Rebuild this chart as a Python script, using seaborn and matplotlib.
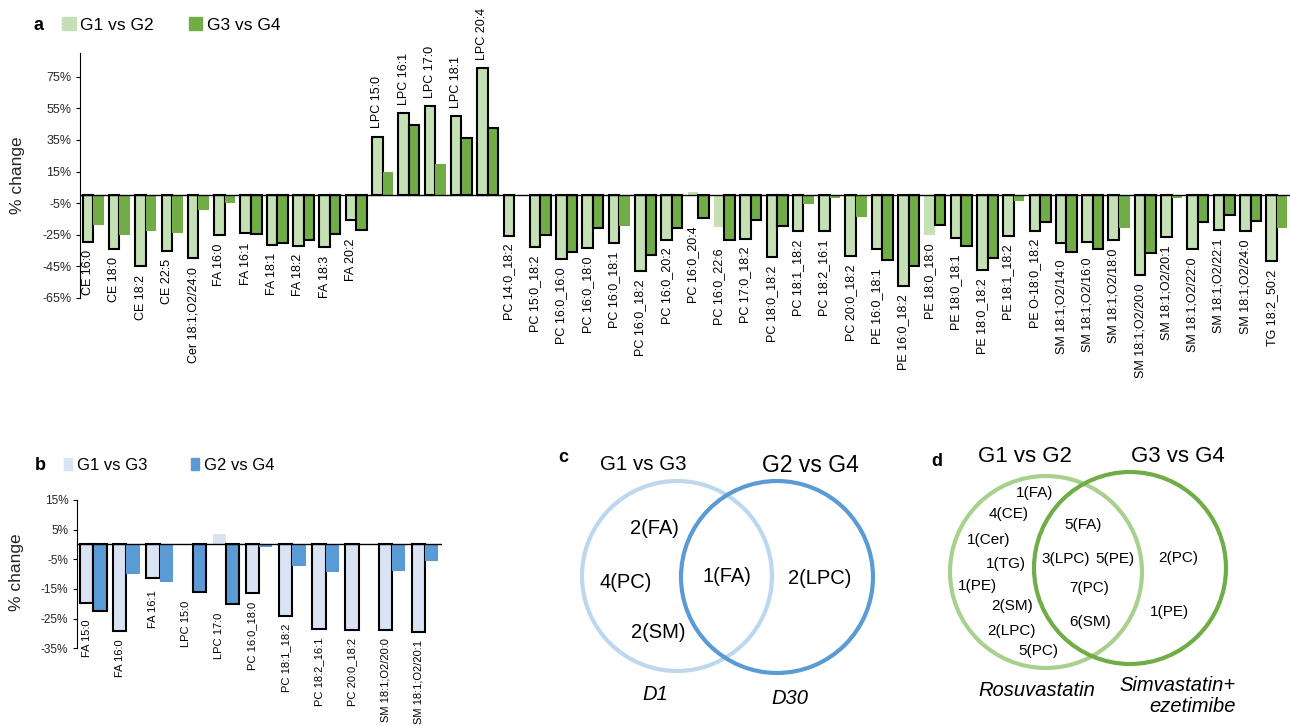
import numpy as np
import pandas as pd
import matplotlib.pyplot as plt
import seaborn as sns
from matplotlib.patches import Patch, Circle

# ---- panel a data: % change per lipid ----
lipids_a = ["CE 16:0", "CE 18:0", "CE 18:2", "CE 22:5", "Cer 18:1;O2/24:0",
            "FA 16:0", "FA 16:1", "FA 18:1", "FA 18:2", "FA 18:3", "FA 20:2",
            "LPC 15:0", "LPC 16:1", "LPC 17:0", "LPC 18:1", "LPC 20:4",
            "PC 14:0_18:2", "PC 15:0_18:2", "PC 16:0_16:0", "PC 16:0_18:0", "PC 16:0_18:1",
            "PC 16:0_18:2", "PC 16:0_20:2", "PC 16:0_20:4", "PC 16:0_22:6", "PC 17:0_18:2",
            "PC 18:0_18:2", "PC 18:1_18:2", "PC 18:2_16:1", "PC 20:0_18:2",
            "PE 16:0_18:1", "PE 16:0_18:2", "PE 18:0_18:0", "PE 18:0_18:1", "PE 18:0_18:2",
            "PE 18:1_18:2", "PE O-18:0_18:2",
            "SM 18:1;O2/14:0", "SM 18:1;O2/16:0", "SM 18:1;O2/18:0", "SM 18:1;O2/20:0",
            "SM 18:1;O2/20:1", "SM 18:1;O2/22:0", "SM 18:1;O2/22:1", "SM 18:1;O2/24:0",
            "TG 18:2_50:2"]
g1_vs_g2 = [-29.3, -34.1, -44.9, -35.0, -40.0, -25.3, -23.6, -31.2, -32.0, -32.9, -15.9,
            37.1, 52.0, 56.2, 50.0, 80.3, -25.5, -33.0, -40.5, -33.3, -30.5, -47.9, -28.0,
            1.8, -20.0, -27.4, -39.2, -22.7, -22.7, -38.4, -33.7, -57.6, -25.0, -27.2, -47.0,
            -25.5, -22.3, -29.9, -29.5, -28.4, -50.4, -26.7, -33.9, -22.1, -22.5, -41.8]
g3_vs_g4 = [-18.5, -25.0, -22.9, -23.8, -9.2, -4.7, -24.6, -30.1, -28.2, -24.2, -21.9,
            14.9, 44.4, 20.0, 36.3, 42.6, 0.3, -25.0, -36.0, -20.8, -19.7, -37.5, -21.0,
            -14.5, -28.4, -15.5, -19.7, -5.8, -2.0, -13.6, -41.1, -44.9, -18.5, -32.4, -39.7,
            -3.9, -17.0, -35.6, -34.1, -20.6, -36.5, -1.6, -17.2, -12.6, -16.4, -21.0]
# 1 = significant (outlined bar)
sig_g1_g2 = [1, 1, 1, 1, 1, 1, 1, 1, 1, 1, 1, 1, 1, 1, 1, 1, 1, 1, 1, 1, 1, 1, 1,
             0, 0, 1, 1, 1, 1, 1, 1, 1, 0, 1, 1, 1, 1, 1, 1, 1, 1, 1, 1, 1, 1, 1]
sig_g3_g4 = [0, 0, 0, 0, 0, 0, 1, 1, 1, 1, 1, 0, 1, 0, 1, 1, 0, 1, 1, 1, 0, 1, 1,
             1, 1, 1, 1, 0, 0, 0, 1, 1, 1, 1, 1, 0, 1, 1, 1, 0, 1, 0, 1, 1, 1, 0]
ticks_a = [-65, -45, -25, -5, 15, 35, 55, 75]

# ---- panel b data ----
lipids_b = ["FA 15:0", "FA 16:0", "FA 16:1", "LPC 15:0", "LPC 17:0", "PC 16:0_18:0",
            "PC 18:1_18:2", "PC 18:2_16:1", "PC 20:0_18:2", "SM 18:1;O2/20:0", "SM 18:1;O2/20:1"]
g1_vs_g3 = [-19.7, -29.1, -11.2, 0.0, 3.7, -16.4, -24.0, -28.5, -28.7, -28.9, -29.4]
g2_vs_g4 = [-22.4, -9.8, -12.5, -16.1, -20.1, -1.0, -7.1, -9.2, 0.0, -8.8, -5.7]
sig_g1_g3 = [1, 1, 1, 0, 0, 1, 1, 1, 1, 1, 1]
sig_g2_g4 = [1, 0, 0, 1, 1, 0, 0, 0, 0, 0, 0]
ticks_b = [-35, -25, -15, -5, 5, 15]

# ---- venn texts ----
venn_c_sets = ["G1 vs G3", "G2 vs G4"]
venn_c_counts = ["2(FA)", "4(PC)", "2(SM)", "1(FA)", "2(LPC)"]
venn_c_days = ["D1", "D30"]
venn_d_sets = ["G1 vs G2", "G3 vs G4"]
venn_d_counts = ["1(FA)", "4(CE)", "1(Cer)", "1(TG)", "1(PE)", "2(SM)", "2(LPC)", "5(PC)",
                 "5(FA)", "3(LPC)", "5(PE)", "7(PC)", "6(SM)", "2(PC)", "1(PE)"]
venn_d_drugs = ["Rosuvastatin", "Simvastatin+\nezetimibe"]

green_light, green_dark = "#C5E0B4", "#70AD47"
blue_light, blue_dark = "#DAE3F3", "#5B9BD5"

sns.set_style("ticks")
plt.rcParams["font.family"] = ["Liberation Sans", "DejaVu Sans"]
plt.rcParams["text.color"] = "black"

W, H = 1290, 726
fig = plt.figure(figsize=(12.9, 7.26), dpi=100)


def px_axes(left, top, right, bottom):
    return fig.add_axes([left / W, 1 - bottom / H, (right - left) / W, (bottom - top) / H])


def draw_bars(ax, lipids, v1, v2, s1, s2, names, colors, ylim, ticks, lab_size, tick_size):
    n = len(lipids)
    df = pd.DataFrame({"lipid": lipids * 2,
                       "comparison": [names[0]] * n + [names[1]] * n,
                       "change": v1 + v2})
    sns.barplot(data=df, x="lipid", y="change", hue="comparison", palette=colors,
                width=0.8, saturation=1, legend=False, ax=ax)
    for cont, sig in zip(ax.containers, [s1, s2]):
        for bar, s in zip(cont, sig):
            if s:
                bar.set_edgecolor("black")
                bar.set_linewidth(1.5)
            else:
                bar.set_edgecolor("none")
                bar.set_linewidth(0)
    # lipid names next to the bars
    for i, lab in enumerate(lipids):
        bar = ax.containers[0][i]
        xc = bar.get_x() + bar.get_width() / 2
        lo = min(v1[i], v2[i])
        if lo < 0:
            ax.annotate(lab, (xc, lo), xytext=(0, -6), textcoords="offset points",
                        rotation=90, ha="center", va="top", fontsize=lab_size)
        else:
            ax.annotate(lab, (xc, max(v1[i], v2[i])), xytext=(0, 6), textcoords="offset points",
                        rotation=90, ha="center", va="bottom", fontsize=lab_size)
    ax.axhline(0, color="black", lw=1)
    ax.set_xlim(-0.5, n - 0.5)
    ax.set_ylim(*ylim)
    ax.set_xticks([])
    ax.set_xlabel("")
    ax.set_yticks(ticks)
    ax.set_yticklabels([f"{t}%" for t in ticks], fontsize=tick_size)
    ax.tick_params(axis="y", length=3, width=0.8, color="black", pad=3)
    ax.spines[["top", "right", "bottom"]].set_visible(False)
    ax.spines["left"].set_color("black")
    ax.spines["left"].set_linewidth(0.8)
    ax.set_facecolor("none")


# panel a
ax_a = px_axes(80, 53, 1290, 298)
draw_bars(ax_a, lipids_a, g1_vs_g2, g3_vs_g4, sig_g1_g2, sig_g3_g4,
          ["G1 vs G2", "G3 vs G4"], [green_light, green_dark], (-65, 90), ticks_a, 9, 9)
ax_a.set_ylabel("% change", fontsize=12.5)
ax_a.yaxis.set_label_coords(-0.0455, 0.5)

# panel b
ax_b = px_axes(76.7, 500, 441.7, 648.3)
draw_bars(ax_b, lipids_b, g1_vs_g3, g2_vs_g4, sig_g1_g3, sig_g2_g4,
          ["G1 vs G3", "G2 vs G4"], [blue_light, blue_dark], (-35, 15), ticks_b, 8, 8.5)
ax_b.set_ylabel("% change", fontsize=12.5)
ax_b.yaxis.set_label_coords(-0.144, 0.51)

# legends
fig.legend(handles=[Patch(color=green_light, label="G1 vs G2"), Patch(color=green_dark, label="G3 vs G4")],
           loc="center left", bbox_to_anchor=(62 / W, 1 - 25 / H), ncol=2, frameon=False,
           fontsize=12.5, handlelength=0.8, handleheight=0.8, handletextpad=0.25,
           columnspacing=2.0, borderpad=0, borderaxespad=0)
fig.legend(handles=[Patch(color=blue_light, label="G1 vs G3"), Patch(color=blue_dark, label="G2 vs G4")],
           loc="center left", bbox_to_anchor=(64 / W, 1 - 465 / H), ncol=2, frameon=False,
           fontsize=12, handlelength=0.5, handleheight=0.7, handletextpad=0.3,
           columnspacing=2.6, borderpad=0, borderaxespad=0)

# overlay in pixel coordinates for panel letters and venn diagrams
ov = fig.add_axes([0, 0, 1, 1])
ov.set_xlim(0, W)
ov.set_ylim(H, 0)
ov.axis("off")

for letter, (x, y) in zip("abcd", [(38, 25), (40, 466), (563, 458), (937, 461)]):
    ov.text(x, y, letter, fontsize=13, fontweight="bold", ha="center", va="center")

# venn c
ov.add_patch(Circle((677, 576), 95, fill=False, ec="#BDD7EE", lw=3))
ov.add_patch(Circle((777, 577), 96, fill=False, ec=blue_dark, lw=3))
for txt, (x, y), fs in zip(venn_c_sets, [(643, 465), (810, 465)], [14.8, 16.5]):
    ov.text(x, y, txt, fontsize=fs, ha="center", va="center")
for txt, (x, y) in zip(venn_c_counts, [(654, 528), (626, 583), (658, 633), (727, 577), (820, 579)]):
    ov.text(x, y, txt, fontsize=14.5, ha="center", va="center")
for txt, (x, y) in zip(venn_c_days, [(655, 695), (790, 698)]):
    ov.text(x, y, txt, fontsize=14.5, style="italic", ha="center", va="center")

# venn d
ov.add_patch(Circle((1046, 572), 96, fill=False, ec="#A9D18E", lw=3))
ov.add_patch(Circle((1130, 568), 96, fill=False, ec=green_dark, lw=3))
for txt, (x, y) in zip(venn_d_sets, [(1025, 457), (1178, 457)]):
    ov.text(x, y, txt, fontsize=16, ha="center", va="center")
d_pos = [(1035, 493), (1009, 514), (989, 540), (1006, 564), (977, 586), (1012, 606),
         (1011, 631), (1038, 651), (1083, 525), (1066, 559), (1115, 559), (1089, 588),
         (1090, 622), (1178, 558), (1169, 612)]
for txt, (x, y) in zip(venn_d_counts, d_pos):
    ov.text(x, y, txt, fontsize=11, ha="center", va="center")
ov.text(1037, 690, venn_d_drugs[0], fontsize=14.5, style="italic", ha="center", va="center")
ov.text(1236, 696, venn_d_drugs[1], fontsize=14.5, style="italic", ha="right", va="center",
        multialignment="right", linespacing=1.1)

fig.savefig("out.png", dpi=100)
